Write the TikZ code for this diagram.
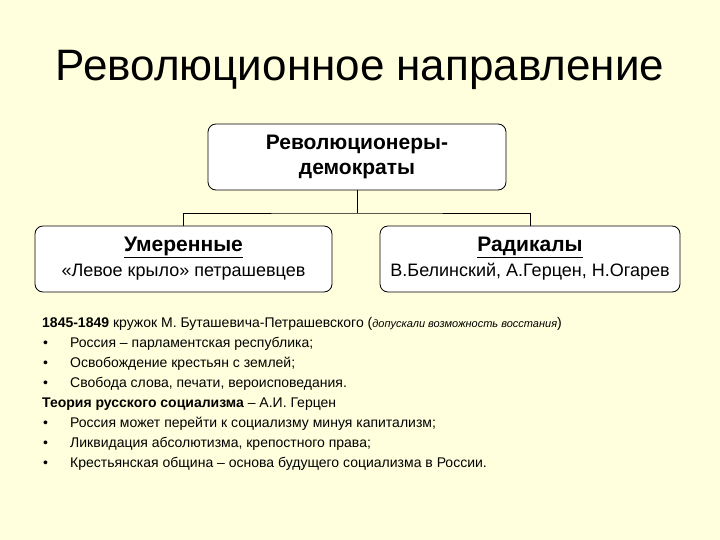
\documentclass[tikz,border=0pt]{standalone}
\usepackage{fontspec}
\setmainfont{Liberation Sans}
\definecolor{bg}{RGB}{255,255,221}
\begin{document}
\begin{tikzpicture}[x=1pt,y=-1pt,
  box/.style={draw,line width=0.8pt,fill=white,rounded corners=8pt,align=center,inner sep=0pt},
  line/.style={line width=0.8pt},
  bodytext/.style={anchor=base west,inner sep=0pt,font=\fontsize{14}{16}\selectfont}]
\fill[bg] (0,0) rectangle (720,540);
\node[inner sep=0pt,font=\fontsize{44}{46}\selectfont] (title) at (360,70) {Революционное направление};
\node[box,minimum width=298,minimum height=66,font=\fontsize{21}{25}\selectfont\bfseries] (top) at (357,157) {Революционеры-\\демократы};
\node[box,minimum width=297,minimum height=66,font=\fontsize{18}{25}\selectfont] (left) at (183.5,259) {{\fontsize{21}{25}\selectfont\bfseries\underline{Умеренные}}\\«Левое крыло» петрашевцев};
\node[box,minimum width=300,minimum height=66,font=\fontsize{18}{25}\selectfont] (right) at (530,259) {{\fontsize{21}{25}\selectfont\bfseries\underline{Радикалы}}\\В.Белинский, А.Герцен, Н.Огарев};
\coordinate (j) at (357,213);
\draw[line] (top.south) -- (j);
\draw[line] (left.north) |- (j) -| (right.north);
\node[bodytext] (l1) at (42,327) {\textbf{1845-1849} кружок М. Буташевича-Петрашевского ({\fontsize{11}{12}\selectfont\itshape допускали возможность восстания})};
\foreach \y/\t [count=\i] in {347/Россия – парламентская республика;,367/Освобождение крестьян с землей;,387/{Свобода слова, печати, вероисповедания.},427/Россия может перейти к социализму минуя капитализм;,447/{Ликвидация абсолютизма, крепостного права;},467/Крестьянская община – основа будущего социализма в России.}{
  \node[bodytext] (b\i) at (43,\y) {•};
  \node[bodytext] (t\i) at (70,\y) {\t};
}
\node[bodytext] (l2) at (42,407) {\textbf{Теория русского социализма} – А.И. Герцен};
\end{tikzpicture}
\end{document}
